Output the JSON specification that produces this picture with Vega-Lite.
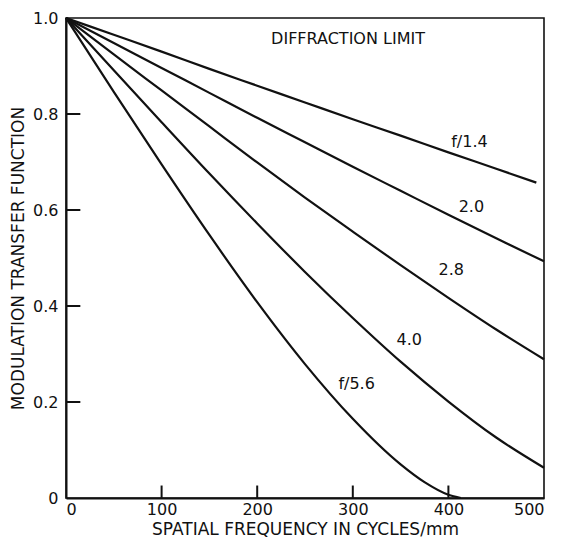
{
  "$schema": "https://vega.github.io/schema/vega-lite/v6.json",
  "width": 478,
  "height": 480,
  "autosize": "none",
  "padding": {"left": 66, "top": 18, "right": 17, "bottom": 39},
  "background": "white",
  "config": {
    "font": "DejaVu Sans",
    "view": {"stroke": "#111", "strokeWidth": 1.6}
  },
  "layer": [
    {
      "data": {
        "values": [
          {"aperture": "f/1.4", "freq": 0, "mtf": 1.0},
          {"aperture": "f/1.4", "freq": 50, "mtf": 0.965},
          {"aperture": "f/1.4", "freq": 100, "mtf": 0.93},
          {"aperture": "f/1.4", "freq": 150, "mtf": 0.894},
          {"aperture": "f/1.4", "freq": 200, "mtf": 0.859},
          {"aperture": "f/1.4", "freq": 250, "mtf": 0.824},
          {"aperture": "f/1.4", "freq": 300, "mtf": 0.789},
          {"aperture": "f/1.4", "freq": 350, "mtf": 0.755},
          {"aperture": "f/1.4", "freq": 400, "mtf": 0.72},
          {"aperture": "f/1.4", "freq": 450, "mtf": 0.686},
          {"aperture": "f/1.4", "freq": 492, "mtf": 0.657},
          {"aperture": "f/2.0", "freq": 0, "mtf": 1.0},
          {"aperture": "f/2.0", "freq": 50, "mtf": 0.948},
          {"aperture": "f/2.0", "freq": 100, "mtf": 0.896},
          {"aperture": "f/2.0", "freq": 150, "mtf": 0.844},
          {"aperture": "f/2.0", "freq": 200, "mtf": 0.792},
          {"aperture": "f/2.0", "freq": 250, "mtf": 0.741},
          {"aperture": "f/2.0", "freq": 300, "mtf": 0.69},
          {"aperture": "f/2.0", "freq": 350, "mtf": 0.64},
          {"aperture": "f/2.0", "freq": 400, "mtf": 0.59},
          {"aperture": "f/2.0", "freq": 450, "mtf": 0.541},
          {"aperture": "f/2.0", "freq": 500, "mtf": 0.493},
          {"aperture": "f/2.8", "freq": 0, "mtf": 1.0},
          {"aperture": "f/2.8", "freq": 50, "mtf": 0.924},
          {"aperture": "f/2.8", "freq": 100, "mtf": 0.849},
          {"aperture": "f/2.8", "freq": 150, "mtf": 0.774},
          {"aperture": "f/2.8", "freq": 200, "mtf": 0.699},
          {"aperture": "f/2.8", "freq": 250, "mtf": 0.626},
          {"aperture": "f/2.8", "freq": 300, "mtf": 0.555},
          {"aperture": "f/2.8", "freq": 350, "mtf": 0.485},
          {"aperture": "f/2.8", "freq": 400, "mtf": 0.417},
          {"aperture": "f/2.8", "freq": 450, "mtf": 0.351},
          {"aperture": "f/2.8", "freq": 500, "mtf": 0.289},
          {"aperture": "f/4.0", "freq": 0, "mtf": 1.0},
          {"aperture": "f/4.0", "freq": 50, "mtf": 0.891},
          {"aperture": "f/4.0", "freq": 100, "mtf": 0.783},
          {"aperture": "f/4.0", "freq": 150, "mtf": 0.676},
          {"aperture": "f/4.0", "freq": 200, "mtf": 0.572},
          {"aperture": "f/4.0", "freq": 250, "mtf": 0.471},
          {"aperture": "f/4.0", "freq": 300, "mtf": 0.375},
          {"aperture": "f/4.0", "freq": 350, "mtf": 0.284},
          {"aperture": "f/4.0", "freq": 400, "mtf": 0.201},
          {"aperture": "f/4.0", "freq": 450, "mtf": 0.126},
          {"aperture": "f/4.0", "freq": 500, "mtf": 0.063},
          {"aperture": "f/5.6", "freq": 0, "mtf": 1.0},
          {"aperture": "f/5.6", "freq": 50, "mtf": 0.846},
          {"aperture": "f/5.6", "freq": 100, "mtf": 0.695},
          {"aperture": "f/5.6", "freq": 150, "mtf": 0.548},
          {"aperture": "f/5.6", "freq": 200, "mtf": 0.408},
          {"aperture": "f/5.6", "freq": 250, "mtf": 0.279},
          {"aperture": "f/5.6", "freq": 300, "mtf": 0.165},
          {"aperture": "f/5.6", "freq": 350, "mtf": 0.07},
          {"aperture": "f/5.6", "freq": 375, "mtf": 0.033},
          {"aperture": "f/5.6", "freq": 400, "mtf": 0.0067},
          {"aperture": "f/5.6", "freq": 413, "mtf": 0.0}
        ]
      },
      "mark": {"type": "line", "color": "#111", "strokeWidth": 2.2, "interpolate": "monotone"},
      "encoding": {
        "x": {
          "field": "freq",
          "type": "quantitative",
          "scale": {"domain": [0, 500], "nice": false},
          "axis": {
            "title": "SPATIAL FREQUENCY IN CYCLES/mm",
            "values": [0, 100, 200, 300, 400, 500],
            "grid": false,
            "ticks": false,
            "labelFlush": true,
            "domainColor": "#111",
            "domainWidth": 2,
            "labelFontSize": 16,
            "labelColor": "#111",
            "labelPadding": 3,
            "titleFontSize": 17,
            "titleFontWeight": "normal",
            "titleColor": "#111",
            "titleY": 31,
            "titleBaseline": "middle"
          }
        },
        "y": {
          "field": "mtf",
          "type": "quantitative",
          "scale": {"domain": [0, 1], "nice": false},
          "axis": {
            "title": "MODULATION TRANSFER FUNCTION",
            "values": [0, 0.2, 0.4, 0.6, 0.8, 1.0],
            "labelExpr": "datum.value == 0 ? '0' : format(datum.value, '.1f')",
            "grid": false,
            "ticks": false,
            "domainColor": "#111",
            "domainWidth": 2,
            "labelFontSize": 16,
            "labelColor": "#111",
            "labelPadding": 8,
            "titleFontSize": 17,
            "titleFontWeight": "normal",
            "titleColor": "#111",
            "titleX": -48,
            "titleY": 240,
            "titleAngle": 270,
            "titleAlign": "center",
            "titleBaseline": "middle"
          }
        },
        "detail": {"field": "aperture", "type": "nominal"}
      }
    },
    {
      "data": {
        "values": [
          {"freq": 100, "base": 0, "top": 0.026},
          {"freq": 200, "base": 0, "top": 0.026},
          {"freq": 300, "base": 0, "top": 0.026},
          {"freq": 400, "base": 0, "top": 0.026}
        ]
      },
      "mark": {"type": "rule", "strokeWidth": 2, "color": "#111"},
      "encoding": {
        "x": {"field": "freq", "type": "quantitative"},
        "y": {"field": "base", "type": "quantitative"},
        "y2": {"field": "top"}
      }
    },
    {
      "data": {
        "values": [
          {"tick": "0.2", "freq": 0, "mtf": 0.2},
          {"tick": "0.2", "freq": 15, "mtf": 0.2},
          {"tick": "0.4", "freq": 0, "mtf": 0.4},
          {"tick": "0.4", "freq": 15, "mtf": 0.4},
          {"tick": "0.6", "freq": 0, "mtf": 0.6},
          {"tick": "0.6", "freq": 15, "mtf": 0.6},
          {"tick": "0.8", "freq": 0, "mtf": 0.8},
          {"tick": "0.8", "freq": 15, "mtf": 0.8}
        ]
      },
      "mark": {"type": "line", "strokeWidth": 2, "color": "#111"},
      "encoding": {
        "x": {"field": "freq", "type": "quantitative"},
        "y": {"field": "mtf", "type": "quantitative"},
        "detail": {"field": "tick", "type": "nominal"}
      }
    },
    {
      "data": {
        "values": [
          {"label": "DIFFRACTION  LIMIT", "freq": 295, "mtf": 0.956},
          {"label": "f/1.4", "freq": 422, "mtf": 0.742},
          {"label": "2.0", "freq": 424, "mtf": 0.606},
          {"label": "2.8", "freq": 403, "mtf": 0.475},
          {"label": "4.0", "freq": 359, "mtf": 0.329},
          {"label": "f/5.6", "freq": 304, "mtf": 0.238}
        ]
      },
      "mark": {"type": "text", "fontSize": 16, "color": "#111", "align": "center", "baseline": "middle"},
      "encoding": {
        "x": {"field": "freq", "type": "quantitative"},
        "y": {"field": "mtf", "type": "quantitative"},
        "text": {"field": "label"}
      }
    }
  ]
}
